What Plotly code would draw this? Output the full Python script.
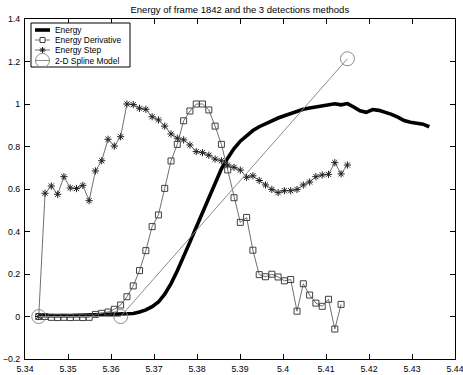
import plotly.graph_objects as go

time_s = [5.34319, 5.34466, 5.34612, 5.34759, 5.34905, 5.35052, 5.35198, 5.35345, 5.35491, 5.35638,
          5.35784, 5.35931, 5.36077, 5.36224, 5.36370, 5.36517, 5.36663, 5.36810, 5.36956, 5.37103,
          5.37249, 5.37396, 5.37542, 5.37689, 5.37835, 5.37982, 5.38128, 5.38275, 5.38421, 5.38568,
          5.38714, 5.38861, 5.39007, 5.39154, 5.39300, 5.39447, 5.39593, 5.39740, 5.39886, 5.40033,
          5.40179, 5.40326, 5.40472, 5.40619, 5.40765, 5.40912, 5.41058, 5.41205, 5.41351, 5.41498,
          5.41644, 5.41791, 5.41937, 5.42084, 5.42230, 5.42377, 5.42523, 5.42670, 5.42816, 5.42963,
          5.43109, 5.43256, 5.43402]

energy = [0.004, 0.005, 0.004, 0.005, 0.005, 0.004, 0.005, 0.005, 0.005, 0.005,
          0.006, 0.006, 0.007, 0.008, 0.010, 0.014, 0.021, 0.031, 0.046, 0.068,
          0.105, 0.155, 0.215, 0.280, 0.350, 0.420, 0.490, 0.565, 0.635, 0.695,
          0.745, 0.790, 0.825, 0.852, 0.875, 0.893, 0.908, 0.921, 0.934, 0.945,
          0.956, 0.966, 0.975, 0.981, 0.986, 0.992, 0.997, 1.001, 0.996, 1.002,
          0.986, 0.968, 0.961, 0.974, 0.970, 0.961, 0.951, 0.938, 0.922, 0.914,
          0.909, 0.905, 0.893]

energy_derivative = [0.0, 0.0, -0.004, -0.005, -0.004, -0.005, -0.004, -0.005, -0.004, 0.010,
                     0.015, 0.021, 0.034, 0.054, 0.093, 0.144, 0.216, 0.310, 0.423, 0.478,
                     0.603, 0.732, 0.810, 0.921, 0.967, 1.000, 1.000, 0.972, 0.896, 0.810,
                     0.690, 0.559, 0.443, 0.466, 0.312, 0.197, 0.187, 0.199, 0.186, 0.168,
                     0.174, 0.025, 0.154, 0.101, 0.063, 0.048, 0.081, -0.059, 0.057]

energy_step = [0.0, 0.580, 0.614, 0.575, 0.658, 0.605, 0.602, 0.617, 0.545, 0.685,
               0.733, 0.834, 0.802, 0.846, 1.000, 0.997, 0.980, 0.975, 0.940, 0.925,
               0.896, 0.859, 0.839, 0.831, 0.807, 0.776, 0.771, 0.759, 0.741, 0.733,
               0.713, 0.702, 0.689, 0.655, 0.662, 0.640, 0.619, 0.598, 0.583, 0.592,
               0.592, 0.598, 0.619, 0.633, 0.658, 0.666, 0.669, 0.724, 0.671, 0.713]

spline_x = [5.34319, 5.36224, 5.41498]
spline_y = [0.0, 0.0, 1.213]

series_names = ["Energy", "Energy Derivative", "Energy Step", "2-D Spline Model"]

x_ticks = [5.34, 5.35, 5.36, 5.37, 5.38, 5.39, 5.40, 5.41, 5.42, 5.43, 5.44]
y_ticks = [-0.2, 0, 0.2, 0.4, 0.6, 0.8, 1.0, 1.2, 1.4]

FONT = "Liberation Sans, Arial, sans-serif"
W, H = 463, 375
ML, MR, MT, MB = 25, 8, 19, 16
PW, PH = W - ML - MR, H - MT - MB

LINE_GRAY = "#707070"
MARK_GRAY = "#404040"
SPL_GRAY = "#8c8c8c"


def fx(p):  # pixel x -> paper
    return (p - ML) / PW


def fy(p):  # pixel y -> paper
    return (H - MB - p) / PH


fig = go.Figure()
fig.add_trace(go.Scatter(x=time_s, y=energy, mode="lines", name=series_names[0],
                         line=dict(color="black", width=3.6)))
fig.add_trace(go.Scatter(x=time_s[:len(energy_derivative)], y=energy_derivative,
                         mode="lines+markers", name=series_names[1],
                         line=dict(color=LINE_GRAY, width=1),
                         marker=dict(symbol="square-open", size=6, color=MARK_GRAY,
                                     line=dict(width=1))))
fig.add_trace(go.Scatter(x=time_s[:len(energy_step)], y=energy_step,
                         mode="lines+markers", name=series_names[2],
                         line=dict(color=LINE_GRAY, width=1),
                         marker=dict(symbol="asterisk-open", size=6, color="#202020",
                                     line=dict(width=1, color="#202020"))))
fig.add_trace(go.Scatter(x=spline_x, y=spline_y, mode="lines+markers", name=series_names[3],
                         line=dict(color=SPL_GRAY, width=1),
                         marker=dict(symbol="circle-open", size=14, color=SPL_GRAY,
                                     line=dict(width=1))))

# ---- custom compact legend (MATLAB style) ----
shapes = []
annotations = []
box_l, box_r, box_t, box_b = 31, 130, 23, 67
shapes.append(dict(type="rect", xref="paper", yref="paper",
                   x0=fx(box_l), x1=fx(box_r), y0=fy(box_b), y1=fy(box_t),
                   line=dict(color="black", width=1), fillcolor="white", layer="above"))
rows = [30, 40, 50, 60.5]
s_l, s_r, s_c, txt_x = 35, 50, 42.5, 53
for i, (name, ry) in enumerate(zip(series_names, rows)):
    if i == 0:
        shapes.append(dict(type="line", xref="paper", yref="paper", x0=fx(s_l), x1=fx(s_r),
                           y0=fy(ry), y1=fy(ry), line=dict(color="black", width=3.6), layer="above"))
    else:
        col = SPL_GRAY if i == 3 else LINE_GRAY
        shapes.append(dict(type="line", xref="paper", yref="paper", x0=fx(s_l), x1=fx(s_r),
                           y0=fy(ry), y1=fy(ry), line=dict(color=col, width=1), layer="above"))
    if i == 1:
        shapes.append(dict(type="rect", xref="paper", yref="paper",
                           x0=fx(s_c - 2.5), x1=fx(s_c + 2.5), y0=fy(ry + 2.5), y1=fy(ry - 2.5),
                           line=dict(color=MARK_GRAY, width=1), fillcolor="white", layer="above"))
    elif i == 2:
        for (dx, dy) in [(0, 3), (3, 0), (2.2, 2.2), (2.2, -2.2)]:
            shapes.append(dict(type="line", xref="paper", yref="paper",
                               x0=fx(s_c - dx), x1=fx(s_c + dx), y0=fy(ry - dy), y1=fy(ry + dy),
                               line=dict(color="#202020", width=1), layer="above"))
    elif i == 3:
        shapes.append(dict(type="circle", xref="paper", yref="paper",
                           x0=fx(s_c - 7), x1=fx(s_c + 7), y0=fy(ry + 7), y1=fy(ry - 7),
                           line=dict(color=SPL_GRAY, width=1), layer="above"))
    annotations.append(dict(text=name, xref="paper", yref="paper", x=fx(txt_x), y=fy(ry),
                            xanchor="left", yanchor="middle", showarrow=False,
                            font=dict(family=FONT, size=8.4, color="black")))

axis_common = dict(showline=True, linecolor="black", linewidth=1, mirror="ticks",
                   ticks="inside", ticklen=5, tickcolor="black", showgrid=False,
                   zeroline=False, automargin=False, ticklabeloverflow="allow",
                   tickfont=dict(family=FONT, size=8.8, color="black"))

fig.update_layout(
    width=W, height=H,
    margin=dict(l=ML, r=MR, t=MT, b=MB),
    paper_bgcolor="white", plot_bgcolor="white",
    title=dict(text="Energy of frame 1842 and the 3 detections methods",
               x=0.518, xanchor="center", y=0.975, yanchor="middle",
               font=dict(family=FONT, size=9.5, color="black")),
    xaxis=dict(range=[5.34, 5.44], tickvals=x_ticks, ticklabelstandoff=1, **axis_common),
    yaxis=dict(range=[-0.2, 1.4], tickvals=y_ticks, ticklabelstandoff=2, **axis_common),
    shapes=shapes,
    annotations=annotations,
    showlegend=False,
)

fig.write_html("out.html",
               config={"displayModeBar": False},
               post_script="document.body.style.margin='0';document.body.style.padding='0';"
                           "document.body.style.overflow='hidden';")
